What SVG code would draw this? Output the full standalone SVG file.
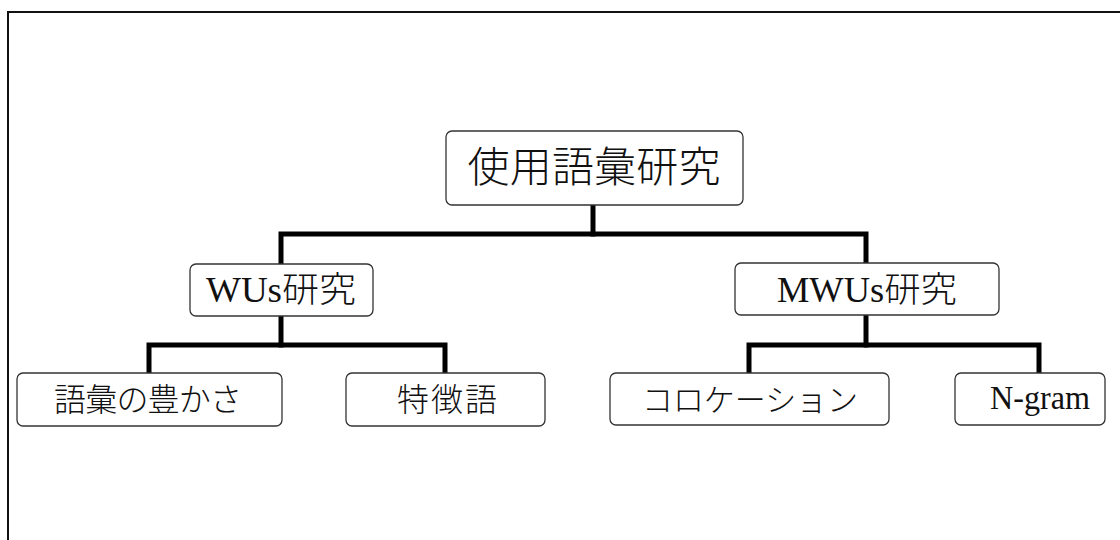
<svg xmlns="http://www.w3.org/2000/svg" width="1120" height="540" viewBox="0 0 1120 540">
<style>
.frame{fill:none;stroke:#111;stroke-width:2}
.box{fill:#fff;stroke:#333;stroke-width:1.3}
.lbl{font-family:"Liberation Serif","Noto Sans CJK JP",serif;fill:#111;text-anchor:middle}
.jp{font-weight:300}
.conn{fill:none;stroke:#000;stroke-width:5;stroke-linejoin:miter;stroke-linecap:square}
</style>
<rect x="0" y="0" width="1120" height="540" fill="#fff"/>
<rect class="frame" x="8" y="12" width="1130" height="540"/>
<g id="connectors">
<path class="conn" d="M593,207 V234"/>
<path class="conn" d="M281,262 V234 H866 V262"/>
<path class="conn" d="M281,317 V345"/>
<path class="conn" d="M149,372 V345 H445 V372"/>
<path class="conn" d="M866,316 V345"/>
<path class="conn" d="M749,372 V345 H1039 V372"/>
</g>
<g id="root">
<rect class="box" x="446" y="131" width="297" height="74" rx="6"/>
<text class="lbl jp" x="594" y="182" font-size="42" textLength="253" lengthAdjust="spacing">使用語彙研究</text>
</g>
<g id="wus">
<rect class="box" x="190" y="264" width="183" height="52" rx="6"/>
<text class="lbl" x="281" y="302" font-size="35" textLength="150" lengthAdjust="spacingAndGlyphs">WUs<tspan class="jp">研究</tspan></text>
</g>
<g id="mwus">
<rect class="box" x="735" y="263" width="264" height="52" rx="6"/>
<text class="lbl" x="867" y="302" font-size="35" textLength="180" lengthAdjust="spacingAndGlyphs">MWUs<tspan class="jp">研究</tspan></text>
</g>
<g id="richness">
<rect class="box" x="17" y="373" width="265" height="53" rx="6"/>
<text class="lbl jp" x="148" y="411" font-size="32" textLength="188" lengthAdjust="spacing">語彙の豊かさ</text>
</g>
<g id="keywords">
<rect class="box" x="346" y="373" width="199" height="53" rx="6"/>
<text class="lbl jp" x="447" y="411" font-size="32" textLength="100" lengthAdjust="spacing">特徴語</text>
</g>
<g id="collocation">
<rect class="box" x="610" y="373" width="279" height="52" rx="6"/>
<text class="lbl jp" x="750" y="411" font-size="31" textLength="216" lengthAdjust="spacing">コロケーション</text>
</g>
<g id="ngram">
<rect class="box" x="955" y="373" width="150" height="52" rx="6"/>
<text class="lbl" x="1040" y="409" font-size="33" textLength="100" lengthAdjust="spacingAndGlyphs">N-gram</text>
</g>
</svg>
